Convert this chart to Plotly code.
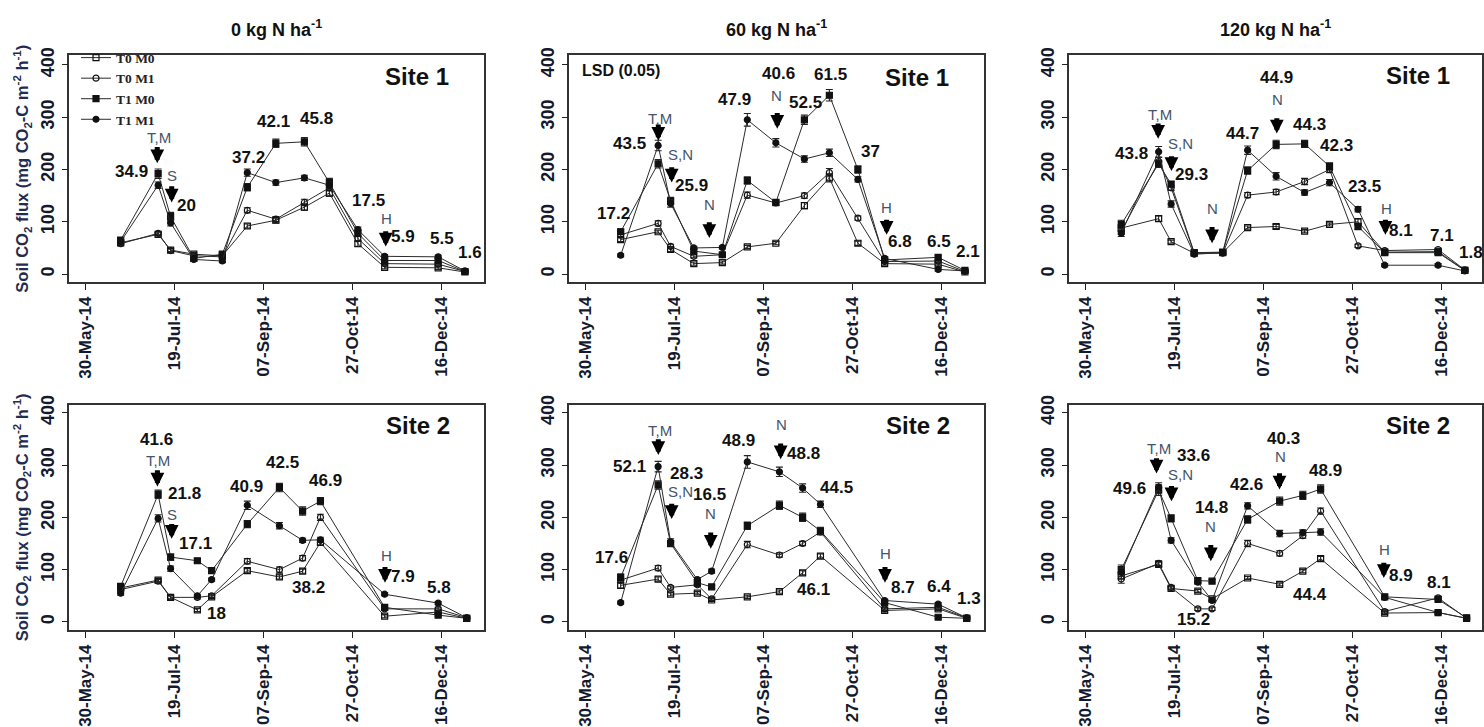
import pandas as pd
import plotly.graph_objects as go

BASE = pd.Timestamp("2014-05-30")

# ---------------- data ----------------
DATES_SITE1 = ["2014-06-19", "2014-07-10", "2014-07-17", "2014-07-30", "2014-08-15", "2014-08-29",
               "2014-09-14", "2014-09-30", "2014-10-14", "2014-10-30", "2014-11-14", "2014-12-14", "2014-12-29"]
DATES_SITE2 = ["2014-06-19", "2014-07-10", "2014-07-17", "2014-08-01", "2014-08-09", "2014-08-29",
               "2014-09-16", "2014-09-29", "2014-10-09", "2014-11-14", "2014-12-14", "2014-12-30"]

SERIES_NAMES = ["T0 M0", "T0 M1", "T1 M0", "T1 M1"]
X_TICK_VALS = ["2014-05-30", "2014-07-19", "2014-09-07", "2014-10-27", "2014-12-16"]
X_TICK_TEXT = ["30-May-14", "19-Jul-14", "07-Sep-14", "27-Oct-14", "16-Dec-14"]
Y_TICK_VALS = [0, 100, 200, 300, 400]
PANEL_TITLES = ["0 kg N ha<sup>-1</sup>", "60 kg N ha<sup>-1</sup>", "120 kg N ha<sup>-1</sup>"]

# Site 1, 0 kg N
S1N0_T0M0 = [60, 76, 46, 38, 35, 92, 103, 128, 155, 58, 13, 12, 4]
S1N0_T0M1 = [58, 78, 45, 35, 33, 122, 105, 137, 165, 68, 20, 19, 5]
S1N0_T1M0 = [65, 192, 110, 30, 38, 166, 250, 253, 175, 78, 26, 26, 5]
S1N0_T1M1 = [62, 170, 98, 28, 25, 194, 175, 184, 170, 85, 34, 33, 6]
# Site 1, 60 kg N
S1N60_T0M0 = [66, 81, 47, 20, 22, 52, 59, 131, 184, 59, 20, 19, 4]
S1N60_T0M1 = [75, 97, 53, 34, 37, 151, 136, 150, 194, 107, 24, 25, 5]
S1N60_T1M0 = [81, 211, 140, 44, 37, 179, 137, 295, 342, 200, 27, 32, 7]
S1N60_T1M1 = [36, 246, 135, 50, 51, 295, 251, 220, 232, 181, 30, 9, 6]
# Site 1, 120 kg N
S1N120_T0M0 = [88, 106, 62, 40, 41, 89, 91, 82, 95, 100, 42, 43, 7]
S1N120_T0M1 = [82, 215, 165, 40, 40, 151, 157, 177, 200, 54, 45, 47, 8]
S1N120_T1M0 = [95, 211, 172, 41, 42, 198, 248, 249, 206, 91, 41, 41, 7]
S1N120_T1M1 = [78, 234, 134, 38, 41, 237, 187, 156, 175, 124, 17, 17, 6]
# Site 2, 0 kg N
S2N0_T0M0 = [65, 80, 47, 23, 48, 98, 86, 97, 152, 11, 19, 7]
S2N0_T0M1 = [62, 78, 47, 47, 50, 116, 100, 122, 200, 25, 25, 8]
S2N0_T1M0 = [68, 244, 124, 117, 98, 187, 257, 212, 231, 28, 13, 7]
S2N0_T1M1 = [55, 198, 102, 50, 81, 223, 184, 156, 157, 53, 36, 8]
# Site 2, 60 kg N
S2N60_T0M0 = [70, 82, 53, 55, 42, 48, 58, 94, 126, 22, 25, 7]
S2N60_T0M1 = [80, 103, 66, 71, 44, 148, 128, 150, 172, 25, 28, 8]
S2N60_T1M0 = [85, 262, 150, 75, 67, 184, 223, 200, 174, 37, 9, 7]
S2N60_T1M1 = [37, 297, 153, 81, 97, 306, 287, 256, 225, 41, 34, 8]
# Site 2, 120 kg N
S2N120_T0M0 = [88, 110, 64, 59, 44, 84, 72, 97, 121, 17, 18, 7]
S2N120_T0M1 = [82, 112, 66, 25, 25, 150, 131, 165, 212, 20, 46, 7]
S2N120_T1M0 = [100, 252, 198, 79, 78, 196, 231, 242, 254, 48, 43, 8]
S2N120_T1M1 = [95, 258, 156, 76, 41, 222, 169, 171, 172, 47, 18, 7]

# error bars (half-widths)
E_S1N0_T0M0 = [4, 3, 3, 3, 3, 4, 5, 6, 6, 5, 3, 3, 2]
E_S1N0_T0M1 = [4, 3, 3, 3, 3, 5, 5, 6, 6, 5, 3, 3, 2]
E_S1N0_T1M0 = [5, 9, 8, 4, 4, 7, 8, 8, 8, 6, 3, 3, 2]
E_S1N0_T1M1 = [4, 6, 6, 3, 3, 7, 5, 5, 6, 5, 3, 3, 2]
E_S1N60_T0M0 = [4, 3, 4, 3, 3, 3, 3, 6, 8, 4, 3, 3, 2]
E_S1N60_T0M1 = [6, 5, 4, 3, 3, 6, 5, 5, 8, 4, 3, 3, 2]
E_S1N60_T1M0 = [5, 8, 7, 4, 3, 7, 5, 9, 11, 7, 4, 3, 2]
E_S1N60_T1M1 = [3, 10, 7, 3, 3, 12, 8, 6, 7, 5, 3, 3, 2]
E_S1N120_T0M0 = [6, 5, 3, 3, 3, 3, 4, 3, 3, 6, 3, 3, 2]
E_S1N120_T0M1 = [6, 8, 5, 3, 3, 5, 5, 6, 6, 3, 3, 3, 2]
E_S1N120_T1M0 = [8, 7, 5, 3, 3, 7, 8, 7, 7, 6, 3, 3, 2]
E_S1N120_T1M1 = [6, 10, 6, 3, 3, 8, 7, 5, 6, 5, 3, 3, 2]
E_S2N0_T0M0 = [5, 3, 3, 3, 3, 4, 4, 4, 5, 3, 3, 2]
E_S2N0_T0M1 = [5, 3, 3, 3, 3, 5, 5, 5, 6, 3, 3, 2]
E_S2N0_T1M0 = [5, 8, 6, 4, 4, 7, 8, 8, 7, 3, 3, 2]
E_S2N0_T1M1 = [4, 7, 5, 3, 3, 8, 6, 4, 5, 3, 3, 2]
E_S2N60_T0M0 = [5, 4, 3, 3, 3, 3, 3, 4, 4, 3, 3, 2]
E_S2N60_T0M1 = [6, 5, 3, 3, 3, 6, 4, 4, 5, 3, 3, 2]
E_S2N60_T1M0 = [7, 8, 6, 4, 3, 7, 8, 8, 7, 3, 3, 2]
E_S2N60_T1M1 = [3, 10, 6, 4, 4, 12, 9, 8, 6, 3, 3, 2]
E_S2N120_T0M0 = [6, 4, 3, 3, 3, 3, 3, 3, 4, 3, 3, 2]
E_S2N120_T0M1 = [8, 5, 3, 3, 3, 6, 5, 5, 6, 3, 3, 2]
E_S2N120_T1M0 = [9, 10, 7, 4, 3, 7, 8, 8, 8, 4, 3, 2]
E_S2N120_T1M1 = [8, 8, 5, 4, 3, 6, 6, 5, 6, 3, 3, 2]

PANELS = [
    (1, DATES_SITE1, [S1N0_T0M0, S1N0_T0M1, S1N0_T1M0, S1N0_T1M1],
     [E_S1N0_T0M0, E_S1N0_T0M1, E_S1N0_T1M0, E_S1N0_T1M1], "Site 1"),
    (2, DATES_SITE1, [S1N60_T0M0, S1N60_T0M1, S1N60_T1M0, S1N60_T1M1],
     [E_S1N60_T0M0, E_S1N60_T0M1, E_S1N60_T1M0, E_S1N60_T1M1], "Site 1"),
    (3, DATES_SITE1, [S1N120_T0M0, S1N120_T0M1, S1N120_T1M0, S1N120_T1M1],
     [E_S1N120_T0M0, E_S1N120_T0M1, E_S1N120_T1M0, E_S1N120_T1M1], "Site 1"),
    (4, DATES_SITE2, [S2N0_T0M0, S2N0_T0M1, S2N0_T1M0, S2N0_T1M1],
     [E_S2N0_T0M0, E_S2N0_T0M1, E_S2N0_T1M0, E_S2N0_T1M1], "Site 2"),
    (5, DATES_SITE2, [S2N60_T0M0, S2N60_T0M1, S2N60_T1M0, S2N60_T1M1],
     [E_S2N60_T0M0, E_S2N60_T0M1, E_S2N60_T1M0, E_S2N60_T1M1], "Site 2"),
    (6, DATES_SITE2, [S2N120_T0M0, S2N120_T0M1, S2N120_T1M0, S2N120_T1M1],
     [E_S2N120_T0M0, E_S2N120_T0M1, E_S2N120_T1M0, E_S2N120_T1M1], "Site 2"),
]

# annotation placements: (days after 30-May-14, value, text)
VALUE_LABELS = {
    1: [(26.2, 197, "34.9"), (57, 131, "20"), (91.4, 222, "37.2"), (105.6, 291, "42.1"),
        (129.9, 297, "45.8"), (158.9, 141, "17.5"), (178.5, 72, "5.9"), (200, 69, "5.5"), (215.9, 41, "1.6")],
    2: [(25.2, 250, "43.5"), (59.8, 169, "25.9"), (15.9, 116, "17.2"), (84, 334, "47.9"),
        (108.4, 384, "40.6"), (123.4, 328, "52.5"), (137.4, 381, "61.5"), (160, 234, "37"),
        (176.6, 62, "6.8"), (198.6, 62, "6.5"), (215, 44, "2.1")],
    3: [(25.8, 231, "43.8"), (59.4, 191, "29.3"), (88, 269, "44.7"), (107.1, 375, "44.9"),
        (125.8, 286, "44.3"), (140.7, 245, "42.3"), (156.6, 168, "23.5"), (177.2, 84, "8.1"),
        (200, 74, "7.1"), (216.6, 41, "1.8")],
    4: [(40.2, 348, "41.6"), (56, 246, "21.8"), (61.7, 150, "17.1"), (73.8, 16, "18"),
        (90.8, 259, "40.9"), (110.8, 304, "42.5"), (135.1, 271, "46.9"), (125.2, 66, "38.2"),
        (178.5, 86, "7.9"), (198.7, 66, "5.8")],
    5: [(25.2, 297, "52.1"), (57, 283, "28.3"), (70, 244, "16.5"), (15, 123, "17.6"),
        (86, 347, "48.9"), (122.4, 323, "48.8"), (141.1, 258, "44.5"), (128, 62, "46.1"),
        (178.5, 66, "8.7"), (198.7, 67, "6.4"), (215.5, 44, "1.3")],
    6: [(60.7, 319, "33.6"), (24.8, 256, "49.6"), (70.7, 219, "14.8"), (60.3, 5, "15.2"),
        (90.3, 262, "42.6"), (111.2, 351, "40.3"), (134.7, 289, "48.9"), (125.8, 53, "44.4"),
        (177.2, 89, "8.9"), (198.3, 75, "8.1")],
}
EVENT_LABELS = {
    1: [(41.3, 262, "T,M"), (48.6, 189, "S"), (169.1, 106, "H")],
    2: [(42, 297, "T,M"), (53.8, 228, "S,N"), (69.7, 134, "N"), (107.5, 342, "N"), (169.2, 128, "H")],
    3: [(41.7, 306, "T,M"), (53.3, 249, "S,N"), (71, 126, "N"), (107.5, 334, "N"), (168.8, 126, "H")],
    4: [(41.1, 309, "T,M"), (48.6, 206, "S"), (169.2, 128, "H")],
    5: [(42, 366, "T,M"), (53.8, 250, "S,N"), (70.5, 208, "N"), (110.3, 378, "N"), (168.2, 131, "H")],
    6: [(41.3, 331, "T,M"), (53.3, 281, "S,N"), (70.3, 183, "N"), (109.3, 317, "N"), (167.8, 139, "H")],
}
# arrows: (days, tail value, tip value)
ARROWS = {
    1: [(40.5, 246, 212), (48.6, 171, 137), (168.6, 85, 53)],
    2: [(41.1, 289, 255), (48.6, 207, 175), (69.7, 102, 69), (107.8, 311, 278), (169.1, 107, 75)],
    3: [(40.7, 291, 259), (48.2, 228, 197), (71, 93, 59), (107.4, 301, 269), (168.4, 107, 75)],
    4: [(40.6, 293, 259), (48.6, 190, 159), (168.2, 108, 75)],
    5: [(41.1, 352, 319), (48.6, 229, 197), (70.5, 174, 140), (109.7, 344, 311), (168.2, 108, 75)],
    6: [(39.8, 316, 284), (48.2, 263, 231), (70.3, 150, 116), (108.9, 287, 253), (167.5, 116, 84)],
}
SITE_POS = {1: (186, 378), 2: (186, 376), 3: (186.5, 380), 4: (186.9, 376), 5: (186.9, 376), 6: (186.5, 375)}

# ---------------- layout geometry ----------------
W, H = 1484, 727
COL_X = [(69.3, 484.0), (569.3, 984.0), (1069.3, 1481.7)]
ROW_Y = [(47.3, 278.3), (403.3, 633.3)]
COL_XRANGE = [(-8.8, 223.7), (-8.8, 223.7), (-9.2, 222.5)]
ROW_YRANGE = [(-15.0, 418.2), (-15.6, 415.7)]

SYMBOLS = ["square-open", "circle-open", "square", "circle"]
FONT = "Liberation Sans, Arial, sans-serif"
EVENT_COLOR = "#44546a"


def day(d):
    return (BASE + pd.Timedelta(days=d)).strftime("%Y-%m-%d %H:%M")


fig = go.Figure()
layout = dict(width=W, height=H, margin=dict(l=0, r=0, t=0, b=0),
              paper_bgcolor="white", plot_bgcolor="white", showlegend=True,
              font=dict(family=FONT, color="#111"))
annotations = []

for idx, dates, series, errs, site in PANELS:
    row = 0 if idx <= 3 else 1
    col = (idx - 1) % 3
    xs = "" if idx == 1 else str(idx)
    for k in range(4):
        fig.add_trace(go.Scatter(
            x=dates, y=series[k], mode="lines+markers",
            name="<b>" + SERIES_NAMES[k] + "</b>",
            showlegend=(idx == 1),
            xaxis="x" + xs, yaxis="y" + xs,
            line=dict(color="#2a2a2a", width=1),
            marker=dict(symbol=SYMBOLS[k], size=6, color="#111",
                        line=dict(color="#111", width=1.2)),
            error_y=dict(type="data", array=errs[k], visible=True, thickness=1.1,
                         width=3.5, color="#222"),
            cliponaxis=False,
        ))
    x0, x1 = COL_X[col]
    y0, y1 = ROW_Y[row]
    layout["xaxis" + xs] = dict(
        domain=[x0 / W, x1 / W], anchor="y" + xs,
        range=[day(COL_XRANGE[col][0]), day(COL_XRANGE[col][1])], type="date",
        tickvals=X_TICK_VALS, ticktext=["<b>" + t + "</b>" for t in X_TICK_TEXT],
        tickangle=-90, ticks="outside", ticklen=6, tickwidth=1.2, tickcolor="#222",
        showline=True, mirror=True, linecolor="#333", linewidth=1.5,
        showgrid=False, zeroline=False,
        tickfont=dict(family=FONT, size=17, color="#141a2e"),
    )
    layout["yaxis" + xs] = dict(
        domain=[1 - y1 / H, 1 - y0 / H], anchor="x" + xs,
        range=list(ROW_YRANGE[row]),
        tickvals=Y_TICK_VALS, ticktext=["<b>%d</b>" % v for v in Y_TICK_VALS],
        tickangle=-90, ticks="outside", ticklen=6, tickwidth=1.2, tickcolor="#222",
        showline=True, mirror=True, linecolor="#333", linewidth=1.5,
        showgrid=False, zeroline=False,
        tickfont=dict(family=FONT, size=18, color="#141a2e"),
    )
    xr, yr = "x" + xs, "y" + xs
    sx, sy = SITE_POS[idx]
    annotations.append(dict(x=day(sx), y=sy, xref=xr, yref=yr, text="<b>" + site + "</b>",
                            showarrow=False, font=dict(family=FONT, size=24, color="#111")))
    for d, v, t in VALUE_LABELS[idx]:
        annotations.append(dict(x=day(d), y=v, xref=xr, yref=yr, text="<b>" + t + "</b>",
                                showarrow=False, font=dict(family=FONT, size=17, color="#111")))
    for d, v, t in EVENT_LABELS[idx]:
        annotations.append(dict(x=day(d), y=v, xref=xr, yref=yr, text=t,
                                showarrow=False, font=dict(family=FONT, size=15, color=EVENT_COLOR)))
    for d, tail, tip in ARROWS[idx]:
        annotations.append(dict(x=day(d), y=tip, ax=day(d), ay=tail, xref=xr, yref=yr,
                                axref=xr, ayref=yr, text="", showarrow=True,
                                arrowhead=2, arrowsize=0.55, arrowwidth=5, arrowcolor="#000"))
    if row == 0:
        annotations.append(dict(x=0.5, y=1 - 20 / H, xref=xr + " domain", yref="paper",
                                xanchor="center", yanchor="middle",
                                text="<b>" + PANEL_TITLES[col] + "</b>", showarrow=False,
                                font=dict(family=FONT, size=18, color="#111")))
    if col == 0:
        annotations.append(dict(x=22 / W, y=0.5, xref="paper", yref=yr + " domain",
                                xanchor="center", yanchor="middle",
                                text="<b>Soil CO<sub>2</sub> flux (mg CO<sub>2</sub>-C m<sup>-2</sup> h<sup>-1</sup>)</b>",
                                textangle=-90, showarrow=False,
                                font=dict(family=FONT, size=16.5, color="#1f2d50")))

annotations.append(dict(x=day(-2.8), y=389, xref="x2", yref="y2", xanchor="left",
                        text="<b>LSD (0.05)</b>", showarrow=False,
                        font=dict(family=FONT, size=16, color="#111")))

layout["annotations"] = annotations
layout["legend"] = dict(x=76 / W, y=1 - 34 / H, xanchor="left", yanchor="top",
                        bgcolor="rgba(0,0,0,0)", tracegroupgap=0, itemwidth=30,
                        font=dict(family="Liberation Serif, Times New Roman, serif", size=13.5, color="#222"))
fig.update_layout(**layout)
fig.write_html("out.html")
